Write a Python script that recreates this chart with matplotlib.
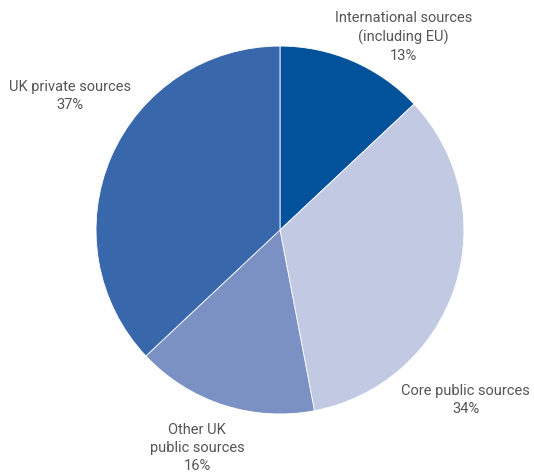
import matplotlib.pyplot as plt

sources = ["International sources\n(including EU)", "Core public sources",
           "Other UK\npublic sources", "UK private sources"]
shares = [13, 34, 16, 37]
colors = ["#01529b", "#c2c9e3", "#7b91c3", "#3967ab"]

# label anchor points, in units of pie radius
label_x = [0.67, 1.01, -0.45, -1.14]
label_y = [1.05, -0.925, -1.185, 0.73]

plt.rcParams['font.family'] = ['Roboto', 'DejaVu Sans']

fig = plt.figure(figsize=(5.34, 4.73), dpi=100)
ax = fig.add_axes([0.1798, 0.1247, 0.689, 0.778])

ax.pie(shares, colors=colors, startangle=90, counterclock=False,
       wedgeprops=dict(edgecolor="white", linewidth=0.6))
ax.set_xlim(-1, 1)
ax.set_ylim(-1, 1)
ax.set_aspect("equal")

for name, pct, x, y in zip(sources, shares, label_x, label_y):
    ax.text(x, y, "{}\n{}%".format(name, pct), ha="center", va="center",
            fontsize=10.5, color="#555555", linespacing=1.35, clip_on=False)

fig.savefig("out.png", dpi=100)
